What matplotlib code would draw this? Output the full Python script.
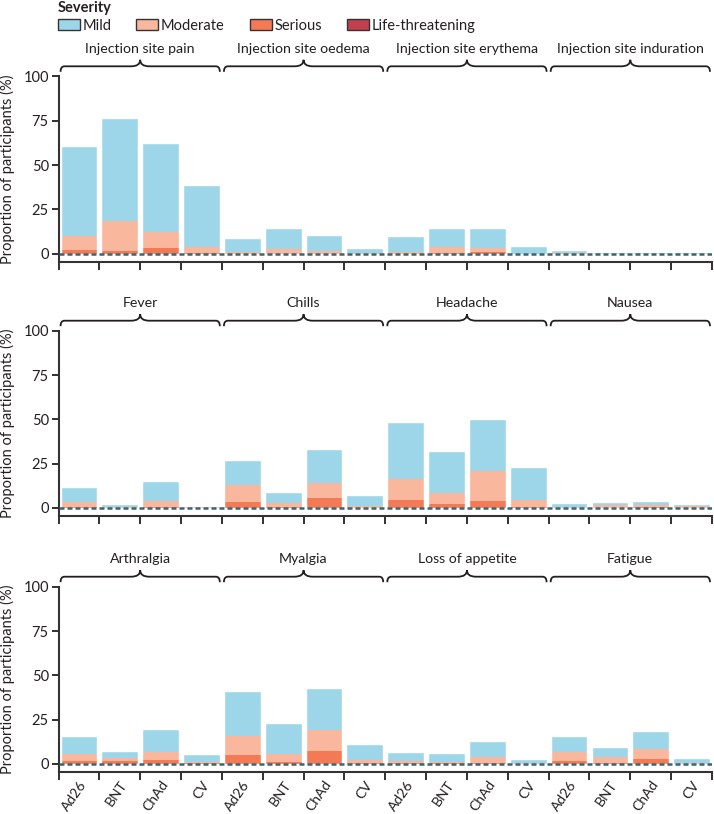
import numpy as np
import matplotlib
matplotlib.use("Agg")
import matplotlib.pyplot as plt
from matplotlib.patches import Patch, PathPatch
from matplotlib.path import Path

plt.rcParams["font.family"] = ["Lato", "DejaVu Sans"]
plt.rcParams["font.size"] = 10
plt.rcParams["text.color"] = "#231f20"
plt.rcParams["axes.labelcolor"] = "#231f20"
plt.rcParams["xtick.color"] = "#231f20"
plt.rcParams["ytick.color"] = "#231f20"

vaccines = ["Ad26", "BNT", "ChAd", "CV"]
severities = ["Mild", "Moderate", "Serious", "Life-threatening"]
colors = ["#9dd6e8", "#f9b79d", "#f47a56", "#c1404e"]

symptoms = [
    ["Injection site pain", "Injection site oedema", "Injection site erythema", "Injection site induration"],
    ["Fever", "Chills", "Headache", "Nausea"],
    ["Arthralgia", "Myalgia", "Loss of appetite", "Fatigue"],
]

# proportion (%) with at least the given severity; 4 vaccines per symptom
mild = [
    [60.7, 76.3, 62.6, 38.9, 8.9, 14.7, 10.7, 3.4, 10.0, 14.5, 14.6, 4.5, 2.1, 1.0, 0.8, 0.8],
    [12.0, 2.4, 15.4, 1.3, 26.8, 9.2, 33.4, 7.5, 48.2, 31.9, 50.1, 23.3, 2.6, 3.6, 4.1, 2.4],
    [15.8, 7.5, 19.5, 5.8, 41.3, 23.1, 42.8, 11.3, 6.9, 6.0, 12.7, 3.0, 15.8, 9.6, 18.6, 3.2],
]
moderate = [
    [10.1, 18.3, 12.4, 3.8, 1.0, 2.6, 1.5, 0.3, 1.0, 3.6, 3.4, 0.2, 0.3, 0.1, 0.1, 0.1],
    [3.2, 0.5, 4.1, 0.3, 12.7, 2.8, 14.1, 0.8, 16.1, 8.2, 21.0, 4.7, 0.5, 1.9, 1.9, 0.8],
    [5.4, 3.5, 6.9, 1.3, 15.6, 5.8, 18.9, 2.3, 1.7, 1.3, 3.9, 0.5, 6.7, 4.1, 8.2, 0.5],
]
serious = [
    [2.3, 1.5, 3.4, 0.3, 0.1, 0.2, 0.2, 0.0, 0.1, 0.5, 0.8, 0.0, 0.0, 0.0, 0.0, 0.0],
    [0.3, 0.1, 0.5, 0.0, 3.6, 0.3, 5.6, 0.2, 4.5, 2.0, 4.1, 0.3, 0.1, 0.2, 0.3, 0.1],
    [1.5, 1.5, 2.4, 0.3, 4.9, 0.8, 7.1, 0.3, 0.3, 0.3, 0.5, 0.1, 1.9, 0.5, 3.0, 0.1],
]
life_threatening = [
    [0.0] * 16,
    [0.0] * 16,
    [0.0] * 16,
]

W, H = 714, 814
fig = plt.figure(figsize=(W / 100, H / 100), dpi=100)

# axes positions in pixels from top: (top of y=100, bottom spine)
panel_px = [(76.3, 261.7), (330.7, 515.7), (586.7, 771.7)]
left_px, right_px = 58.5, 712.0

x = np.arange(16)
axes = []
for p, (top, bot) in enumerate(panel_px):
    ax = fig.add_axes([left_px / W, 1 - bot / H, (right_px - left_px) / W, (bot - top) / H])
    axes.append(ax)
    for vals, c in zip([mild[p], moderate[p], serious[p], life_threatening[p]], colors):
        ax.bar(x, vals, width=0.9, color=c, linewidth=0)
    # white outline around each whole bar
    ax.bar(x, mild[p], width=0.9, facecolor="none", edgecolor="white", linewidth=1.0, zorder=3)
    ax.axhline(0, color="#3c6470", lw=1.8, ls=(0, (2, 1.2)), zorder=5)

    ax.set_xlim(-0.5, 15.5)
    ax.set_ylim(-4.4, 100)
    ax.set_yticks([0, 25, 50, 75, 100])
    ax.set_ylabel("Proportion of participants (%)", fontsize=10.5, labelpad=6)
    for s in ["top", "right"]:
        ax.spines[s].set_visible(False)
    for s in ["left", "bottom"]:
        ax.spines[s].set_linewidth(1.5)
        ax.spines[s].set_color("#333333")
    ax.tick_params(axis="y", length=5, width=1.3, labelsize=10.5, pad=2)
    ax.set_xticks(np.arange(-0.5, 16, 1))
    ax.set_xticklabels([])
    ax.tick_params(axis="x", which="major", length=6, width=1.3)
    ax.set_xticks(x, minor=True)
    ax.tick_params(axis="x", which="minor", length=0)
    if p == 2:
        ax.set_xticklabels(vaccines * 4, minor=True, rotation=55, ha="right",
                           rotation_mode="anchor", fontsize=10)
        ax.tick_params(axis="x", which="minor", pad=5)
    else:
        ax.set_xticklabels([], minor=True)

# braces and group titles
inv = fig.transFigure.inverted()
for p, ax in enumerate(axes):
    top_disp = ax.transAxes.transform((0, 1))[1]
    for g, name in enumerate(symptoms[p]):
        x0 = ax.transData.transform((g * 4 - 0.45, 0))[0]
        x1 = ax.transData.transform((g * 4 + 3.45, 0))[0]
        xm = (x0 + x1) / 2
        yb, yh, yp = top_disp + 4.5, top_disp + 10, top_disp + 16.5
        r, w = 4, 9
        verts = [(x0, yb), (x0, yh), (x0 + r, yh), (xm - w, yh), (xm, yh), (xm, yp),
                 (xm, yh), (xm + w, yh), (x1 - r, yh), (x1, yh), (x1, yb)]
        codes = [Path.MOVETO, Path.CURVE3, Path.CURVE3, Path.LINETO, Path.CURVE3, Path.CURVE3,
                 Path.CURVE3, Path.CURVE3, Path.LINETO, Path.CURVE3, Path.CURVE3]
        verts = inv.transform(verts)
        fig.add_artist(PathPatch(Path(verts, codes), facecolor="none", edgecolor="#231f20",
                                 lw=1.3, transform=fig.transFigure))
        ax.annotate(name, xy=(g * 4 + 1.5, 1), xycoords=("data", "axes fraction"),
                    xytext=(0, 20), textcoords="offset points", ha="center", va="center",
                    fontsize=10.2, annotation_clip=False)

handles = [Patch(facecolor=c, edgecolor="#333333", lw=1.0) for c in colors]
leg = fig.legend(handles, severities, loc="upper left", bbox_to_anchor=(57 / W, 1.0),
                 ncol=4, frameon=False, title="Severity", alignment="left",
                 borderpad=0.05, borderaxespad=0, handlelength=1.5, handleheight=0.75,
                 handletextpad=0.2, columnspacing=1.7, fontsize=10.5,
                 title_fontproperties={"weight": "bold", "size": 10.5})
leg._legend_box.sep = 3

fig.savefig("out.png", dpi=100)
